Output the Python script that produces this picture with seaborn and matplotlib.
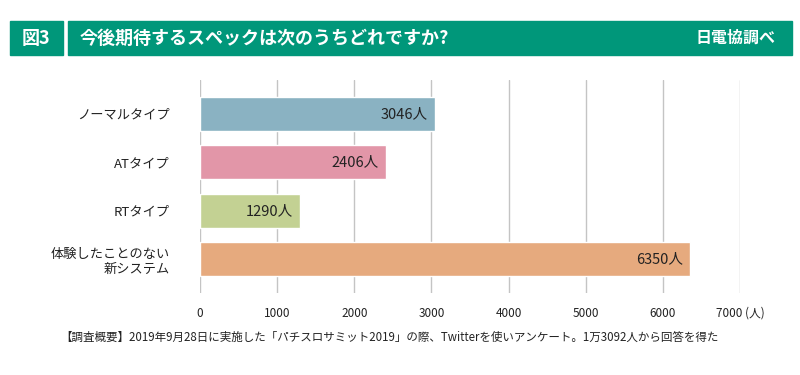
import matplotlib
matplotlib.use("Agg")
import matplotlib.pyplot as plt
import seaborn as sns
import pandas as pd
from matplotlib.patches import Rectangle

# データ
categories = ["ノーマルタイプ", "ATタイプ", "RTタイプ", "体験したことのない\n新システム"]
counts = [3046, 2406, 1290, 6350]
colors = ["#8AB2C2", "#E296A8", "#C3D193", "#E6AA7E"]
xticks = [0, 1000, 2000, 3000, 4000, 5000, 6000, 7000]
xtick_labels = ["0", "1000", "2000", "3000", "4000", "5000", "6000", "7000 (人)"]

title = "今後期待するスペックは次のうちどれですか?"
fig_no = "図3"
source = "日電協調べ"
note = "【調査概要】2019年9月28日に実施した「パチスロサミット2019」の際、Twitterを使いアンケート。1万3092人から回答を得た"

sns.set_style("white")
plt.rcParams['font.family'] = ['Noto Sans CJK JP', 'DejaVu Sans']

df = pd.DataFrame({"cat": categories, "n": counts})
pal = dict(zip(categories, colors))

fig = plt.figure(figsize=(8, 3.75), dpi=100)
ax = fig.add_axes([0.25, 1 - 293 / 375, 0.675, (293 - 80) / 375])

sns.barplot(data=df, x="n", y="cat", hue="cat", palette=pal, saturation=1,
            width=0.7, legend=False, ax=ax, zorder=3)

ax.set_xlim(0, 7000)
ax.set_ylim(3.7, -0.7)
ax.set_xticks(xticks)
ax.set_xticklabels(xtick_labels, fontsize=8.5, color="#222222")
ax.get_xticklabels()[-1].set_x(0)
ax.xaxis.grid(True, color="#C4C4C4", linewidth=1, zorder=0)
ax.yaxis.grid(False)
for s in ax.spines.values():
    s.set_visible(False)
ax.tick_params(axis="x", length=0, pad=10)
ax.tick_params(axis="y", length=0, pad=22)
for lab in ax.get_yticklabels():
    lab.set_fontsize(9.5)
    lab.set_multialignment("right")
    lab.set_color("#222222")
ax.set_xlabel("")
ax.set_ylabel("")

# 値ラベル
for i, v in enumerate(counts):
    ax.text(v - 90, i, f"{v}人", ha="right", va="center", fontsize=10.5, color="#222222", zorder=5)

# ヘッダー
green = "#00977A"
fig.patches.append(Rectangle((10 / 800, 1 - 55 / 375), 53 / 800, 34 / 375,
                             transform=fig.transFigure, color=green, zorder=0))
fig.patches.append(Rectangle((68 / 800, 1 - 55 / 375), 724 / 800, 34 / 375,
                             transform=fig.transFigure, color=green, zorder=0))
fig.text(36 / 800, 1 - 38 / 375, fig_no, color="white", fontsize=13, fontweight="bold",
         ha="center", va="center")
fig.text(80 / 800, 1 - 38 / 375, title, color="white", fontsize=13, fontweight="bold",
         ha="left", va="center")
fig.text(776 / 800, 1 - 38 / 375, source, color="white", fontsize=11.5, fontweight="bold",
         ha="right", va="center")

fig.text(60 / 800, 1 - 337 / 375, note, fontsize=8.3, color="#222222", ha="left", va="center")

fig.savefig("out.png", dpi=100)
